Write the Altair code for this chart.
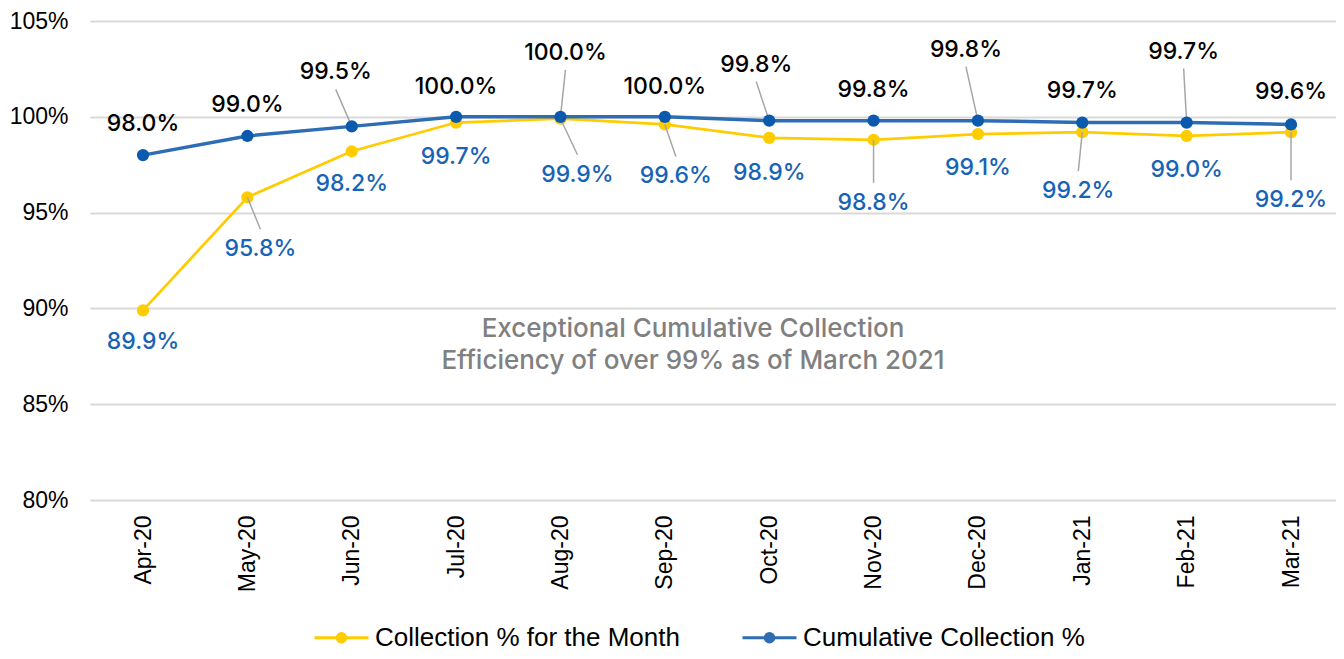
import altair as alt
import pandas as pd

# ---------------- data ----------------
months = ["Apr-20", "May-20", "Jun-20", "Jul-20", "Aug-20", "Sep-20",
          "Oct-20", "Nov-20", "Dec-20", "Jan-21", "Feb-21", "Mar-21"]
monthly = [89.9, 95.8, 98.2, 99.7, 99.9, 99.6, 98.9, 98.8, 99.1, 99.2, 99.0, 99.2]
cumulative = [98.0, 99.0, 99.5, 100.0, 100.0, 100.0, 99.8, 99.8, 99.8, 99.7, 99.7, 99.6]
series_names = ["Collection % for the Month", "Cumulative Collection %"]
y_ticks = [80, 85, 90, 95, 100, 105]
note_lines = "Exceptional Cumulative Collection\nEfficiency of over 99% as of March 2021"

# ---------------- label layout (pixel offsets from each point) ----------------
cum_label_dx = [0, 0, -16, 0, 5, 0, -13, 0, -12, 0, -3, 0]
cum_label_dy = [-31, -31, -54, -30, -64, -30, -56, -31, -71, -32, -71, -32]
cum_leader = [0, 0, 1, 0, 1, 0, 1, 0, 1, 0, 1, 0]
mon_label_dx = [0, 13, 0, 0, 17, 11, 0, 0, 0, -4, 0, 0]
mon_label_dy = [32, 52, 33, 34, 56, 52, 35, 63, 34, 59, 34, 68]
mon_leader = [0, 1, 0, 0, 1, 1, 0, 1, 0, 1, 0, 1]

# ---------------- geometry ----------------
W, H = 1246, 479
X_MIN, X_MAX = -0.508, 11.431
Y_MIN, Y_MAX = 80, 105
PX_X = W / (X_MAX - X_MIN)
PX_Y = H / (Y_MAX - Y_MIN)

FONT_AX = "Liberation Sans"
FONT_LBL = "Inter"
YELLOW_LINE, YELLOW_PT = "#FFCC00", "#FFCC00"
BLUE_LINE, BLUE_PT = "#2E6DB4", "#0B5AAD"
BLUE_TXT = "#1763B6"

rows = []
for i, m in enumerate(months):
    rows.append(dict(idx=i, month=m, series=series_names[0], value=monthly[i],
                     ldx=mon_label_dx[i], ldy=mon_label_dy[i], leader=mon_leader[i], lend=-20))
    rows.append(dict(idx=i, month=m, series=series_names[1], value=cumulative[i],
                     ldx=cum_label_dx[i], ldy=cum_label_dy[i], leader=cum_leader[i], lend=17))
df = pd.DataFrame(rows)
df["lx"] = df["idx"] + df["ldx"] / PX_X
df["ly"] = df["value"] - df["ldy"] / PX_Y
df["ey"] = df["value"] - (df["ldy"] + df["lend"]) / PX_Y
df["label"] = df["value"].map(lambda v: f"{v:.1f}%")

note_df = pd.DataFrame({"x": [5.27], "y": [88.9], "t": [note_lines]})

x_label_expr = "[" + ",".join(f"'{m}'" for m in months) + "][datum.value]"
xscale = alt.Scale(domain=[X_MIN, X_MAX], nice=False, zero=False)
yscale = alt.Scale(domain=[Y_MIN, Y_MAX], nice=False, zero=False)

x_enc = alt.X("idx:Q", scale=xscale, axis=alt.Axis(
    values=list(range(len(months))), labelExpr=x_label_expr, labelAngle=-90,
    grid=False, ticks=False, tickSize=0, domain=False, labelPadding=15, title=None,
    labelFont=FONT_AX, labelFontSize=23, labelColor="#000000"))
y_enc = alt.Y("value:Q", scale=yscale, axis=alt.Axis(
    values=y_ticks, labelExpr="datum.value + '%'", grid=True, gridColor="#D9D9D9",
    gridWidth=2, ticks=False, tickSize=0, domain=False, labelPadding=22, title=None,
    labelFont=FONT_AX, labelFontSize=23, labelColor="#000000"))

legend_symbol = ("M-1,0L1,0"
                 "M0.16,0A0.16,0.16,0,1,1,-0.16,0A0.16,0.16,0,1,1,0.16,0"
                 "M0.08,0A0.08,0.08,0,1,1,-0.08,0A0.08,0.08,0,1,1,0.08,0"
                 "M0.02,0A0.02,0.02,0,1,1,-0.02,0A0.02,0.02,0,1,1,0.02,0")
color_enc = alt.Color("series:N", scale=alt.Scale(domain=series_names, range=[YELLOW_LINE, BLUE_LINE]),
                      legend=alt.Legend(orient="none", legendX=223, legendY=588, direction="horizontal",
                                        title=None, symbolType=legend_symbol, symbolSize=2916,
                                        symbolStrokeWidth=3, labelFont=FONT_AX, labelFontSize=26,
                                        labelColor="#000000", labelLimit=600, columnPadding=56,
                                        labelOffset=5))

base = alt.Chart(df)
mon = base.transform_filter(alt.datum.series == series_names[0])
cum = base.transform_filter(alt.datum.series == series_names[1])

line_m = mon.mark_line(strokeWidth=2.75).encode(x=x_enc, y=y_enc, color=color_enc)
line_c = cum.mark_line(strokeWidth=3.5).encode(x=x_enc, y=y_enc, color=color_enc)
pts_m = mon.mark_circle(size=150, opacity=1, color=YELLOW_PT).encode(x="idx:Q", y="value:Q")
pts_c = cum.mark_circle(size=150, opacity=1, color=BLUE_PT).encode(x="idx:Q", y="value:Q")

leaders = base.transform_filter(alt.datum.leader == 1).mark_rule(
    color="#A6A6A6", strokeWidth=1.5).encode(x="idx:Q", y="value:Q", x2="lx:Q", y2="ey:Q")

lbl_m = mon.mark_text(font=FONT_LBL, fontSize=23, fontWeight=500, color=BLUE_TXT, baseline="middle").encode(
    x="lx:Q", y="ly:Q", text="label:N")
lbl_c = cum.mark_text(font=FONT_LBL, fontSize=23, fontWeight=500, color="#000000", baseline="middle").encode(
    x="lx:Q", y="ly:Q", text="label:N")

note = alt.Chart(note_df).mark_text(font=FONT_LBL, fontSize=26, fontWeight=500, color="#808080",
                                    lineBreak="\n", lineHeight=32, baseline="middle").encode(
    x="x:Q", y="y:Q", text="t:N")

chart = alt.layer(line_m, pts_m, line_c, leaders, pts_c, lbl_m, lbl_c, note).properties(
    width=W, height=H,
    autosize=alt.AutoSizeParams(type="none"),
    padding={"left": 82, "top": 13, "right": 0, "bottom": 151},
    background="#FFFFFF",
).configure_view(stroke=None)

chart.save("out.html", embed_options={"renderer": "svg", "actions": False})
